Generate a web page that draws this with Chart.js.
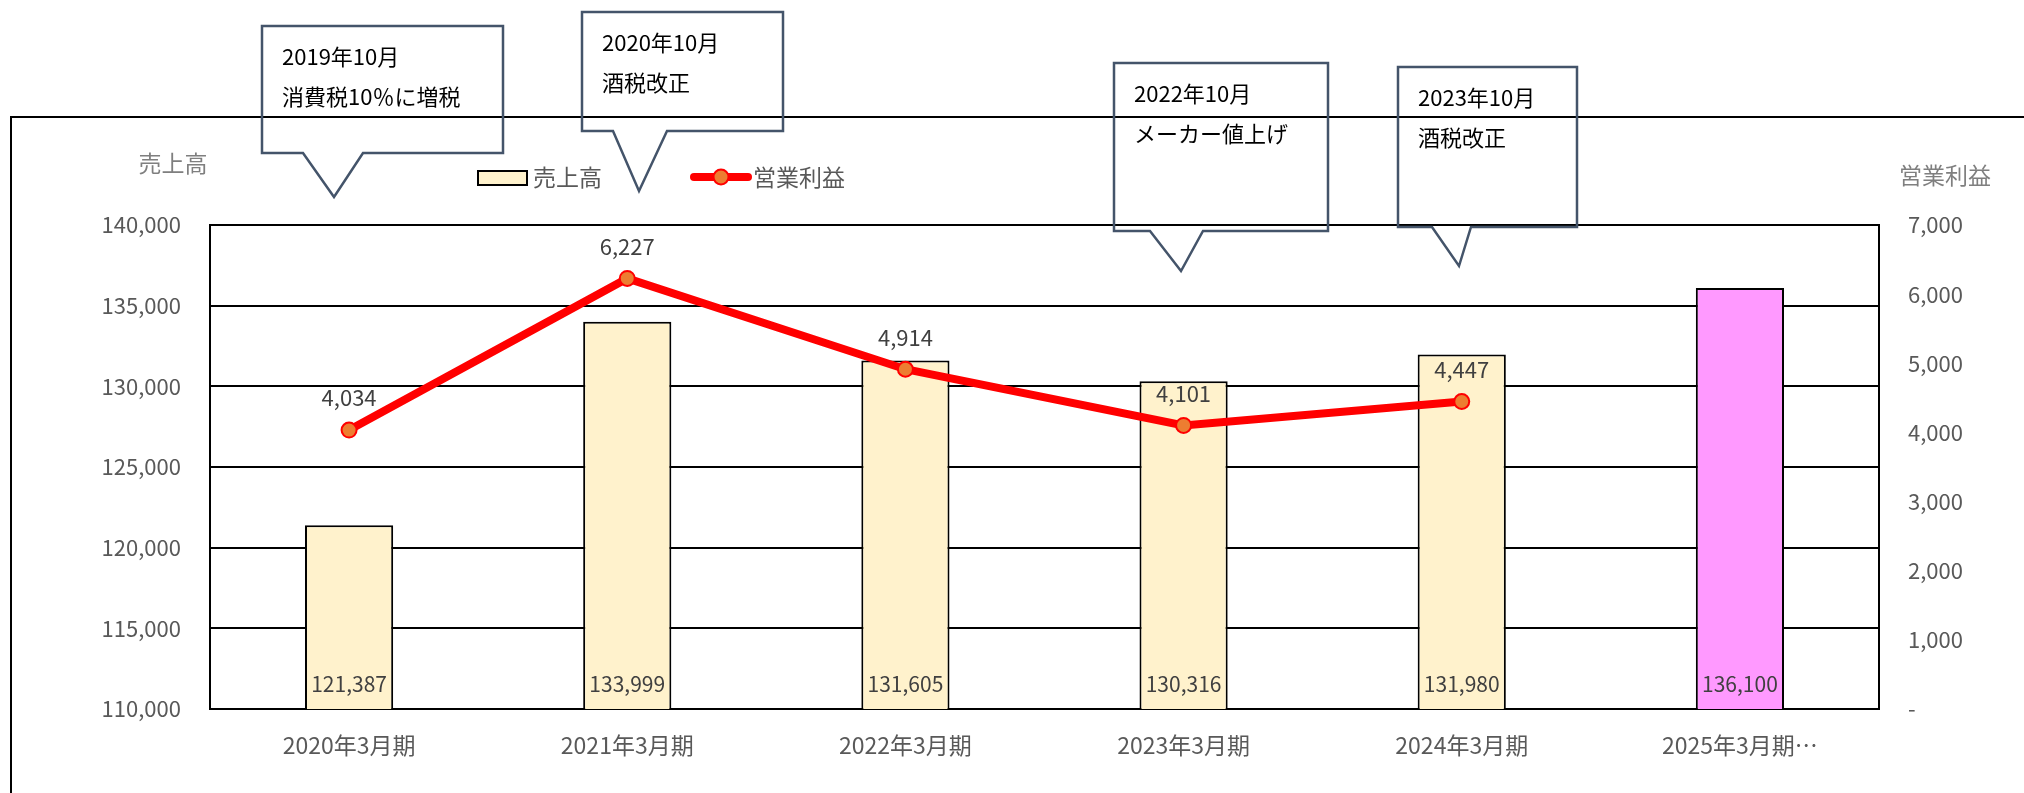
<!DOCTYPE html>
<html lang="ja">
<head>
<meta charset="utf-8">
<title>売上高・営業利益</title>
<script src="https://cdn.jsdelivr.net/npm/chart.js@4.4.1/dist/chart.umd.min.js"></script>
<style>
  html, body { margin: 0; padding: 0; background: #fff; }
  #wrap { position: relative; width: 2024px; height: 793px; }
</style>
</head>
<body>
<div id="wrap">
  <canvas id="salesChart" width="2024" height="793"></canvas>
</div>
<script>
// data
const categories = ['2020年3月期', '2021年3月期', '2022年3月期', '2023年3月期', '2024年3月期', '2025年3月期…'];
const sales = [121387, 133999, 131605, 130316, 131980, 136100];
const operatingProfit = [4034, 6227, 4914, 4101, 4447, null];
const barColors = ['#FFF2CC', '#FFF2CC', '#FFF2CC', '#FFF2CC', '#FFF2CC', '#FF99FF'];

const salesTicks = { min: 110000, max: 140000, step: 5000 };
const profitTicks = { min: 0, max: 7000, step: 1000 };

// callout notes (text only; box geometry lives in calloutLayout)
const calloutTexts = [
  ['2019年10月', '消費税10％に増税'],
  ['2020年10月', '酒税改正'],
  ['2022年10月', 'メーカー値上げ'],
  ['2023年10月', '酒税改正']
];
const calloutLayout = [
  { x: 262, y: 26, w: 241, h: 127, baseL: 303, baseR: 363, tipX: 334, tipY: 197 },
  { x: 582, y: 12, w: 201, h: 119, baseL: 613, baseR: 667, tipX: 639, tipY: 191 },
  { x: 1114, y: 63, w: 214, h: 168, baseL: 1150, baseR: 1203, tipX: 1181, tipY: 271 },
  { x: 1398, y: 67, w: 179, h: 160, baseL: 1432, baseR: 1471, tipX: 1459, tipY: 266 }
];

const FONT = '"Noto Sans CJK JP", "Noto Sans", sans-serif';
const fmt = v => Number(v).toLocaleString('en-US');

Chart.defaults.font.family = FONT;
Chart.defaults.color = '#595959';

// data labels, axis titles, legend, callouts and outer frame
const decorPlugin = {
  id: 'decor',
  afterDatasetsDraw(chart) {
    const ctx = chart.ctx;
    const baseY = chart.scales.y.getPixelForValue(salesTicks.min);
    ctx.save();
    ctx.fillStyle = '#404040';
    ctx.textAlign = 'center';
    ctx.textBaseline = 'middle';

    // bar labels sit inside the base of each bar
    ctx.font = '21px ' + FONT;
    chart.getDatasetMeta(1).data.forEach((el, i) => {
      ctx.fillText(fmt(sales[i]), el.x, baseY - 25);
    });
    // line labels above the markers
    ctx.font = '22px ' + FONT;
    chart.getDatasetMeta(0).data.forEach((el, i) => {
      if (operatingProfit[i] == null) return;
      ctx.fillText(fmt(operatingProfit[i]), el.x, el.y - 32);
    });
    ctx.restore();
  },
  afterDraw(chart) {
    const ctx = chart.ctx;
    ctx.save();

    // outer chart frame (runs off the right and bottom edges)
    ctx.strokeStyle = '#000';
    ctx.lineWidth = 2;
    ctx.beginPath();
    ctx.moveTo(11, 900);
    ctx.lineTo(11, 117);
    ctx.lineTo(2100, 117);
    ctx.stroke();

    // axis titles
    ctx.font = '23px ' + FONT;
    ctx.fillStyle = '#7F7F7F';
    ctx.textBaseline = 'middle';
    ctx.textAlign = 'center';
    ctx.fillText('売上高', 173, 163);
    ctx.fillText('営業利益', 1945, 175);

    // legend
    ctx.fillStyle = '#FFF2CC';
    ctx.fillRect(478, 171, 49, 14);
    ctx.strokeStyle = '#000';
    ctx.lineWidth = 2;
    ctx.strokeRect(478, 171, 49, 14);
    ctx.fillStyle = '#595959';
    ctx.textAlign = 'left';
    ctx.fillText(chart.data.datasets[1].label, 533, 177);

    ctx.strokeStyle = '#FF0000';
    ctx.lineWidth = 8;
    ctx.lineCap = 'round';
    ctx.beginPath();
    ctx.moveTo(694, 177);
    ctx.lineTo(748, 177);
    ctx.stroke();
    ctx.lineCap = 'butt';
    ctx.beginPath();
    ctx.arc(721, 177, 7.5, 0, Math.PI * 2);
    ctx.fillStyle = '#ED7D31';
    ctx.fill();
    ctx.lineWidth = 2;
    ctx.stroke();
    ctx.fillStyle = '#595959';
    ctx.fillText(chart.data.datasets[0].label, 753, 177);

    // callouts
    calloutLayout.forEach((c, i) => {
      ctx.strokeStyle = '#44546A';
      ctx.lineWidth = 2.5;
      ctx.lineJoin = 'miter';
      ctx.beginPath();
      ctx.moveTo(c.x, c.y);
      ctx.lineTo(c.x + c.w, c.y);
      ctx.lineTo(c.x + c.w, c.y + c.h);
      ctx.lineTo(c.baseR, c.y + c.h);
      ctx.lineTo(c.tipX, c.tipY);
      ctx.lineTo(c.baseL, c.y + c.h);
      ctx.lineTo(c.x, c.y + c.h);
      ctx.closePath();
      ctx.stroke();

      ctx.fillStyle = '#000';
      ctx.font = '22px ' + FONT;
      ctx.textAlign = 'left';
      ctx.textBaseline = 'middle';
      calloutTexts[i].forEach((line, j) => {
        ctx.fillText(line, c.x + 20, c.y + 31 + j * 40);
      });
    });

    ctx.restore();
  }
};

new Chart(document.getElementById('salesChart'), {
  type: 'bar',
  data: {
    labels: categories,
    datasets: [
      {
        type: 'line',
        label: '営業利益',
        data: operatingProfit,
        yAxisID: 'y1',
        borderColor: '#FF0000',
        borderWidth: 8,
        tension: 0,
        pointRadius: 7.5,
        pointBackgroundColor: '#ED7D31',
        pointBorderColor: '#FF0000',
        pointBorderWidth: 2,
        spanGaps: false,
        order: 1
      },
      {
        type: 'bar',
        label: '売上高',
        data: sales,
        yAxisID: 'y',
        backgroundColor: barColors,
        borderColor: '#000',
        borderWidth: 2,
        barPercentage: 0.317,
        categoryPercentage: 1,
        order: 2
      }
    ]
  },
  options: {
    responsive: false,
    animation: false,
    layout: { padding: { top: 225, left: 0, right: 0, bottom: 0 } },
    plugins: {
      legend: { display: false },
      tooltip: { enabled: false }
    },
    scales: {
      x: {
        offset: true,
        grid: { display: false, drawTicks: false },
        border: { display: true, color: '#000', width: 2 },
        ticks: { color: '#595959', font: { size: 23 }, padding: 22, maxRotation: 0, autoSkip: false },
        afterFit: s => { s.height = 84; }
      },
      y: {
        position: 'left',
        min: salesTicks.min,
        max: salesTicks.max,
        grid: { color: '#000', lineWidth: 2, drawTicks: false },
        border: { display: true, color: '#000', width: 2 },
        ticks: {
          stepSize: salesTicks.step,
          color: '#595959',
          font: { size: 22 },
          padding: 29,
          callback: v => fmt(v)
        },
        afterFit: s => { s.width = 210; }
      },
      y1: {
        position: 'right',
        min: profitTicks.min,
        max: profitTicks.max,
        grid: { drawOnChartArea: false, drawTicks: false },
        border: { display: true, color: '#000', width: 2 },
        ticks: {
          stepSize: profitTicks.step,
          color: '#595959',
          font: { size: 22 },
          padding: 29,
          callback: v => (v === 0 ? '-' : fmt(v))
        },
        afterFit: s => { s.width = 145; }
      }
    }
  },
  plugins: [decorPlugin]
});
</script>
</body>
</html>
